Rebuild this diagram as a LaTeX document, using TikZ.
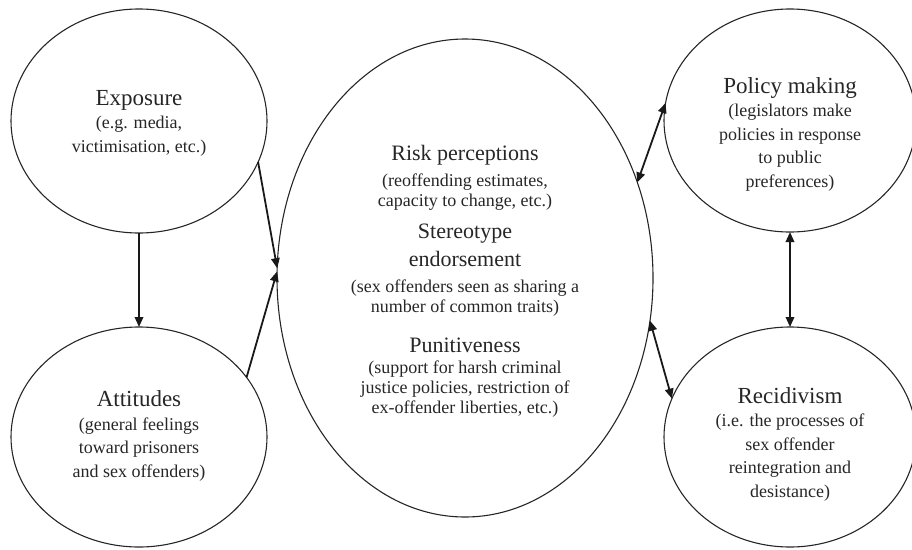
\documentclass[tikz,border=0pt]{standalone}
\usepackage{fontspec}
\setmainfont{Liberation Serif}
\usetikzlibrary{shapes.geometric,arrows.meta}
\tikzset{
  ell/.style={ellipse, draw=black!85, line width=1.1pt, inner sep=0pt, outer sep=0pt},
  txt/.style={align=center, inner sep=0pt, text=black!85,
    font=\fontsize{18}{23.5}\selectfont},
  ctxt/.style={align=center, inner sep=0pt, text=black!85,
    font=\fontsize{18}{20}\selectfont},
  conn/.style={line width=1.8pt, draw=black!90, -{Triangle[length=10pt,width=8.5pt]}},
  dconn/.style={line width=1.8pt, draw=black!90, {Triangle[length=10pt,width=8.5pt]}-{Triangle[length=10pt,width=8.5pt]}},
}
\newcommand{\ttl}[1]{{\fontsize{23}{20}\selectfont #1}}
\newcommand{\cttl}[1]{{\fontsize{22}{20}\selectfont #1}}
\begin{document}
\lineskiplimit=-100pt
\begin{tikzpicture}[x=1pt,y=-1pt]
\useasboundingbox (0,0) rectangle (912,549);
% ellipses
\node[ell, minimum width=256pt, minimum height=224pt] (exp) at (139,121) {};
\node[ell, minimum width=256pt, minimum height=220pt] (att) at (139,437) {};
\node[ell, minimum width=376pt, minimum height=478pt] (ctr) at (465,278) {};
\node[ell, minimum width=252pt, minimum height=223pt] (pol) at (790,120.5) {};
\node[ell, minimum width=252pt, minimum height=220pt] (rec) at (790,437) {};
% texts
\node[txt] (exptxt) at (139,123) {\ttl{Exposure}\\(e.g. media,\\victimisation, etc.)};
\node[txt] (atttxt) at (139,436) {\ttl{Attitudes}\\(general feelings\\toward prisoners\\and sex offenders)};
\node[txt] (poltxt) at (790,134) {\ttl{Policy making}\\(legislators make\\policies in response\\to public\\preferences)};
\node[txt] (rectxt) at (790,444) {\ttl{Recidivism}\\(i.e. the processes of\\sex offender\\reintegration and\\desistance)};
\node[ctxt] (ctrtxt) at (465,281) {\cttl{Risk perceptions}\\[6pt](reoffending estimates,\\capacity to change, etc.)\\[12pt]\cttl{Stereotype}\\[8pt]\cttl{endorsement}\\[6pt](sex offenders seen as sharing a\\number of common traits)\\[20pt]\cttl{Punitiveness}\\[1pt](support for harsh criminal\\justice policies, restriction of\\ex-offender liberties, etc.)};
% connectors
\draw[conn] (exp.-19) -- (ctr.177);
\draw[conn] (att.29) -- (ctr.178.5);
\draw[conn] (exp.south) -- (att.north);
\draw[dconn] (ctr.29) -- (pol.172);
\draw[dconn] (ctr.-13) -- (rec.162);
\draw[dconn] (pol.south) -- (rec.north);
\end{tikzpicture}
\end{document}
